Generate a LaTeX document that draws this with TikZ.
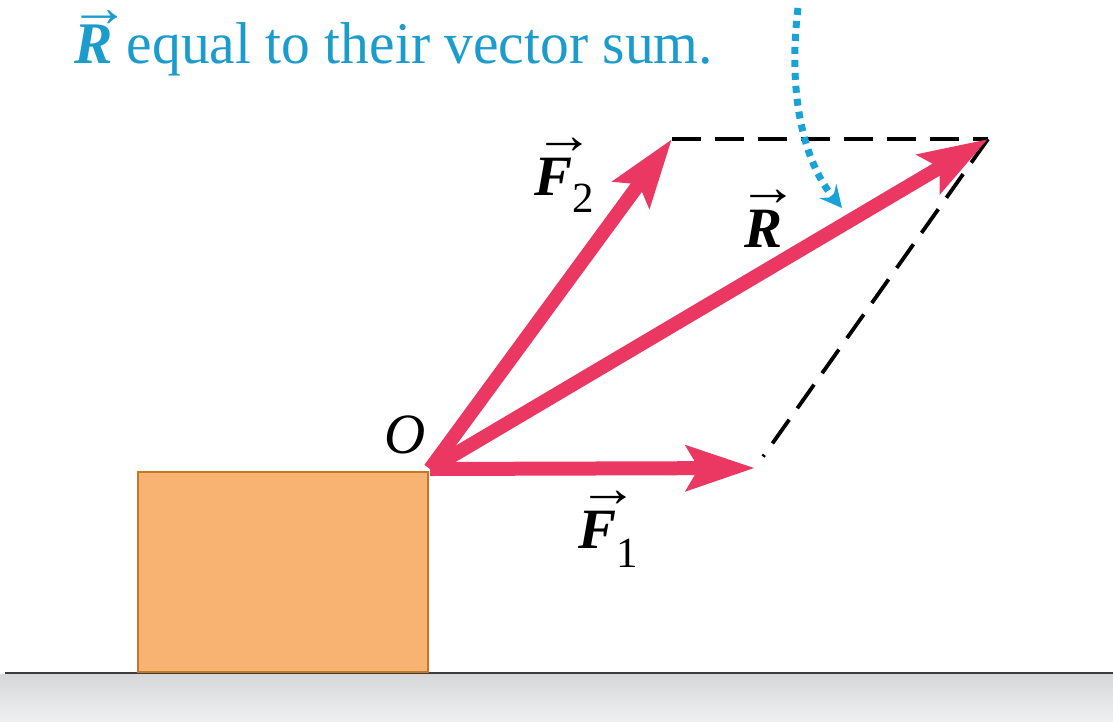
\documentclass[tikz,border=0pt]{standalone}
\usepackage{fontspec}
\setmainfont{Liberation Serif}
\newfontfamily\capfont[FakeStretch=0.975]{Liberation Serif}
\usepackage{graphicx}
\usetikzlibrary{arrows.meta}
\definecolor{forcered}{RGB}{234,56,98}
\definecolor{boxfill}{RGB}{248,179,114}
\definecolor{boxedge}{RGB}{198,118,40}
\definecolor{capblue}{RGB}{28,156,204}
\definecolor{dotblue}{RGB}{25,162,215}
% #1 horizontal shift of the arrow, #2 gap below it, #3 the letter
\newcommand{\arrowover}[3]{\leavevmode\vbox{\offinterlineskip\halign{##\hfil\cr\rlap{\hspace*{#1}\scalebox{1.05}[0.95]{→}}\cr\noalign{\kern#2}#3\cr}}}
\tikzset{
  force/.style={draw=forcered, line width=14pt, line cap=butt,
    -{Stealth[length=68pt,width=44pt,inset=12pt]}},
  dashline/.style={draw=black, line width=3.8pt, dash pattern=on 29pt off 14pt},
  pointer/.style={draw=dotblue, line width=7pt, dash pattern=on 7pt off 6pt,
    -{Stealth[length=22pt,width=22pt,inset=8pt]}},
  lbl/.style={inner sep=0pt, outer sep=0pt, anchor=base west, font=\fontsize{57}{57}\selectfont}
}
\begin{document}
\begin{tikzpicture}[x=1pt,y=-1pt]
\useasboundingbox (0,0) rectangle (1113,721);
% ground
\shade[top color={rgb,255:red,214;green,215;blue,217}, bottom color={rgb,255:red,239;green,240;blue,241}]
  (0,674) rectangle (1113,721);
\draw[draw={rgb,255:red,60;green,60;blue,60}, line width=2.5pt] (5,673) -- (1113,673);
% block
\draw[fill=boxfill, draw=boxedge, line width=2.5pt] (138,472) rectangle (428,672);
% caption
\node[lbl, text=capblue, font=\capfont\fontsize{59}{59}\selectfont] (cap) at (74,63)
  {\arrowover{-0.08em}{-0.035em}{\textbf{\textit{R}}} equal to their vector sum.};
% points
\coordinate (O) at (430,469);
\coordinate (F1) at (755,468);
\coordinate (F2) at (672,139);
\coordinate (R) at (988,139);
% parallelogram
\draw[dashline] (F2) -- (R);
\draw[dashline, shorten >=14pt] (R) -- (F1);
% forces
\draw[force] (O) -- (F1);
\draw[force] (O) -- (F2);
\draw[force] (O) -- (R);
% labels
\node[lbl] (lO) at (384,453) {\textit{O}};
\node[lbl] (lF2) at (534,195) {\arrowover{0em}{0.065em}{\textbf{\textit{F}}}\raisebox{-17pt}{\fontsize{43}{43}\selectfont 2}};
\node[lbl] (lF1) at (578,548) {\arrowover{0em}{0.065em}{\textbf{\textit{F}}}\raisebox{-19pt}{\fontsize{43}{43}\selectfont 1}};
\node[lbl] (lR) at (744,247) {\arrowover{-0.1em}{0.08em}{\textbf{\textit{R}}}};
% pointer
\coordinate (ptop) at (798,8);
\coordinate (ptip) at (842,208);
\draw[pointer] (ptop) .. controls (788,90) and (802,160) .. (ptip);
\end{tikzpicture}
\end{document}
